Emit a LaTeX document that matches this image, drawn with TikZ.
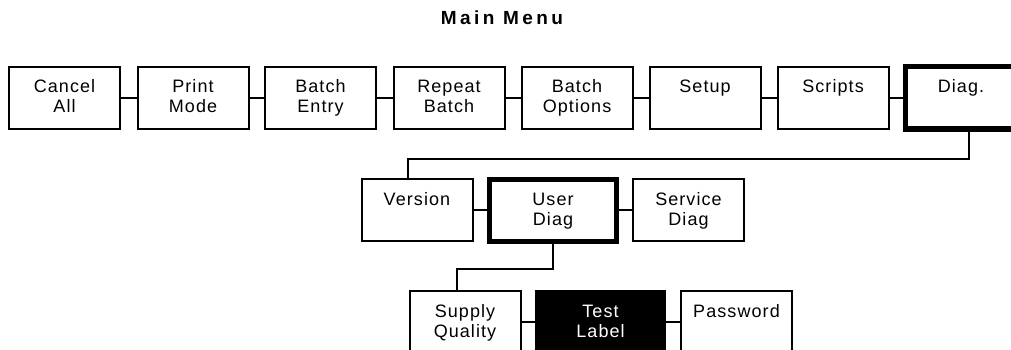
\documentclass[tikz,border=0pt]{standalone}
\usepackage{fontspec}
\setmainfont{Liberation Sans}[LetterSpace=6]

\begin{document}
\begin{tikzpicture}[x=1pt, y=-1pt, font=\fontsize{18}{20}\selectfont,
  menubox/.style={draw, line width=2pt, inner sep=0pt, text width=111pt,
    align=center, text height=26pt, text depth=36pt},
  selbox/.style={menubox, line width=5pt},
  link/.style={line width=2pt}]
\path[use as bounding box, clip] (0,0) rectangle (1011,350);
% title
\node[anchor=base] (title) at (502,24.5)
  {\fontsize{19}{22}\selectfont\bfseries\addfontfeature{LetterSpace=18}Main Menu};
% main menu row
\node[menubox] (cancel) at (64.5,98) {Cancel\\All};
\node[menubox] (print)  at (193,98)  {Print\\Mode};
\node[menubox] (entry)  at (320.5,98) {Batch\\Entry};
\node[menubox] (repeat) at (449,98)  {Repeat\\Batch};
\node[menubox] (opts)   at (577,98)  {Batch\\Options};
\node[menubox] (setup)  at (705,98)  {Setup};
\node[menubox] (scripts) at (833,98) {Scripts};
\node[selbox]  (diag)   at (961,98)  {Diag.};
\draw[link] (cancel) -- (print);
\draw[link] (print) -- (entry);
\draw[link] (entry) -- (repeat);
\draw[link] (repeat) -- (opts);
\draw[link] (opts) -- (setup);
\draw[link] (setup) -- (scripts);
\draw[link] (scripts) -- (diag);
% diag sub menu
\node[menubox] (version) at (417,210) {Version};
\node[selbox, text width=127pt] (user) at (553,210) {User\\Diag};
\node[menubox] (service) at (688.5,210) {Service\\Diag};
\draw[link] (version) -- (user);
\draw[link] (user) -- (service);
\draw[link] ([xshift=8pt]diag.south) -- ++(0,27) -| ([xshift=-9pt]version.north);
% user diag sub menu
\node[menubox] (supply) at (465,322) {Supply\\Quality};
\node[menubox, fill=black, text=white, text width=129pt] (test) at (600.5,322) {Test\\Label};
\node[menubox] (password) at (736.5,322) {Password};
\draw[link] (supply) -- (test);
\draw[link] (test) -- (password);
\draw[link] (user.south) -- ++(0,25) -| ([xshift=-8pt]supply.north);
\end{tikzpicture}
\end{document}
